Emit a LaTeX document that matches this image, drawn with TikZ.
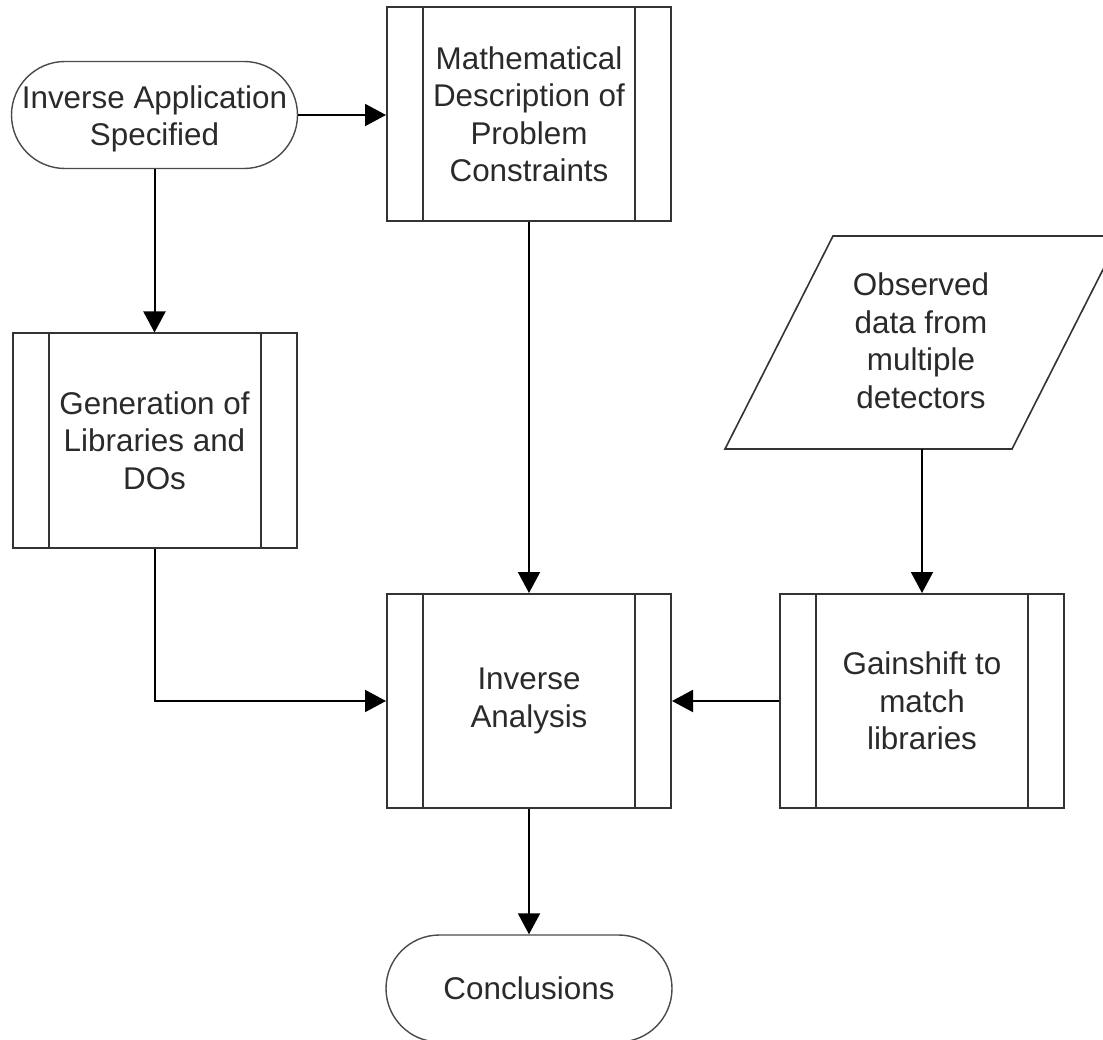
\documentclass[tikz,border=0pt]{standalone}
\usepackage{fontspec}
\setmainfont{Liberation Sans}
\usetikzlibrary{arrows.meta}
\definecolor{txt}{HTML}{2A2A2A}
\definecolor{edge}{HTML}{333333}
\definecolor{term}{HTML}{4A4A4A}
\begin{document}
\begin{tikzpicture}[x=1pt,y=-1pt,
  every node/.style={font=\fontsize{31.4}{37.5}\selectfont, text=txt, align=center},
  procbox/.style={draw=edge, line width=2pt, minimum width=284pt, minimum height=214pt, inner sep=0pt,
    path picture={
      \draw[edge, line width=2pt] ([xshift=36pt]path picture bounding box.north west) -- ([xshift=36pt]path picture bounding box.south west);
      \draw[edge, line width=2pt] ([xshift=-36pt]path picture bounding box.north east) -- ([xshift=-36pt]path picture bounding box.south east);
    }},
  termbox/.style={draw=term, line width=1.4pt, minimum width=286pt, minimum height=107pt, inner sep=0pt, rounded corners=53.5pt},
  conn/.style={draw=black, line width=2pt, -{Triangle[length=21pt,width=22pt]}}
]
\useasboundingbox (0,0) rectangle (1103,1040);

\node[termbox] (app) at (154.5,115) {\rule{0pt}{31pt}Inverse Application\\Specified};
\node[procbox] (math) at (529,114.5) {Mathematical\\Description of\\Problem\\Constraints};
\node[procbox] (gen) at (154.5,440.5) {Generation of\\Libraries and\\DOs};
\node[procbox] (inv) at (529,701) {Inverse\\Analysis};
\node[procbox] (gain) at (922,701) {Gainshift to\\match\\libraries};
\node[termbox] (concl) at (529,988.5) {Conclusions};

\draw[edge, line width=1.6pt] (725,449) -- (833,236) -- (1120,236) -- (1012,449) -- cycle;
\node (obs) at (921,341) {Observed\\data from\\multiple\\detectors};
\coordinate (obsb) at (922,449);

\draw[conn] (app.east) -- (app.east -| math.west);
\draw[conn] (app.south) -- (gen.north);
\draw[conn] (math.south) -- (inv.north);
\draw[conn] (gen.south) |- (inv.west);
\draw[conn] (obsb) -- (gain.north);
\draw[conn] (gain.west) -- (inv.east);
\draw[conn] (inv.south) -- (concl.north);
\end{tikzpicture}
\end{document}
